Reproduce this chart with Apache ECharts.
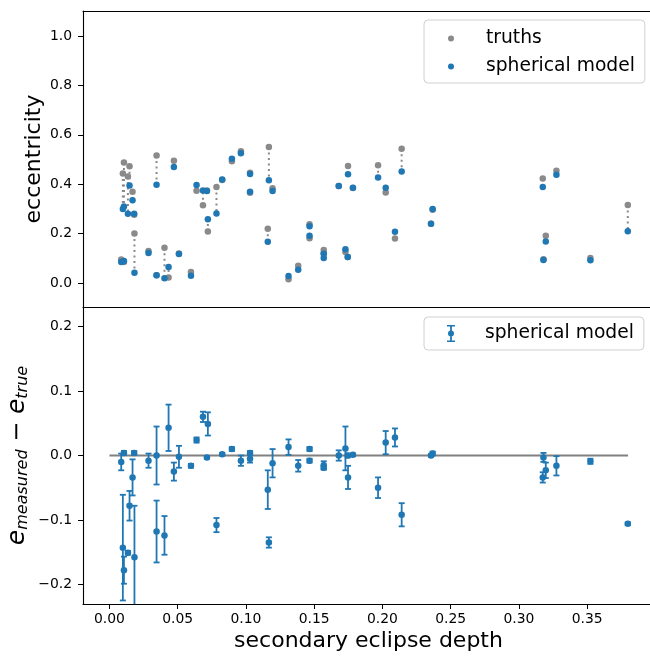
<!DOCTYPE html>
<html>
<head>
<meta charset="utf-8">
<script src="https://cdn.jsdelivr.net/npm/echarts@6/dist/echarts.min.js"></script>
<style>
html,body{margin:0;padding:0;background:#fff;overflow:hidden;}
#c{width:650px;height:657px;}
</style>
</head>
<body>
<div id="c"></div>
<script>
// ---- data ----
const depth = [0.0086,0.0098,0.0106,0.0106,0.0135,0.0147,0.0169,0.0181,0.0183,0.0286,
  0.0345,0.0345,0.0403,0.0433,0.0472,0.0509,0.0597,0.0638,0.0685,0.0714,
  0.0721,0.0784,0.0826,0.0897,0.0963,0.1030,0.1030,0.1160,0.1168,0.1195,
  0.1312,0.1383,0.1466,0.1466,0.1570,0.1570,0.1680,0.1729,0.1746,0.1748,
  0.1784,0.1968,0.2024,0.2092,0.2141,0.2356,0.2368,0.3175,0.3180,0.3197,
  0.3275,0.3524,0.3798];
const eTrue = [0.095,0.443,0.488,0.085,0.431,0.473,0.369,0.276,0.200,0.130,
  0.516,0.031,0.143,0.022,0.495,0.120,0.045,0.373,0.315,0.375,
  0.209,0.389,0.417,0.493,0.533,0.446,0.365,0.220,0.551,0.384,
  0.015,0.070,0.238,0.181,0.134,0.120,0.393,0.126,0.105,0.474,
  0.385,0.477,0.366,0.180,0.543,0.240,0.297,0.423,0.096,0.191,
  0.454,0.101,0.316];
const eModel = [0.085,0.300,0.310,0.089,0.280,0.395,0.335,0.280,0.042,0.122,
  0.398,0.031,0.019,0.065,0.470,0.118,0.029,0.397,0.375,0.372,
  0.258,0.281,0.419,0.503,0.525,0.441,0.369,0.167,0.416,0.372,
  0.028,0.054,0.230,0.191,0.119,0.101,0.393,0.137,0.105,0.440,
  0.386,0.427,0.386,0.208,0.451,0.240,0.300,0.389,0.093,0.168,
  0.438,0.092,0.210];
const eErr = [0.013,0.082,0.021,0.003,0.003,0.023,0.028,0.003,0.080,0.011,
  0.048,0.045,0.030,0.036,0.014,0.017,0.003,0.004,0.008,0.002,
  0.018,0.011,0.002,0.003,0.008,0.006,0.003,0.030,0.008,0.022,
  0.012,0.009,0.003,0.003,0.006,0.003,0.008,0.034,0.003,0.018,
  0.002,0.016,0.018,0.014,0.018,0.002,0.003,0.008,0.007,0.012,
  0.015,0.004,0.002];
const xTicks = [0.00,0.05,0.10,0.15,0.20,0.25,0.30,0.35];
const yTopTicks = [0.0,0.2,0.4,0.6,0.8,1.0];
const yBotTicks = [-0.2,-0.1,0.0,0.1,0.2];
const zeroLine = [[0.0,0.0],[0.38,0.0]];

const BLUE = '#1f77b4', GRAY = '#8a8a8a', FONT = 'DejaVu Sans';
const fmt = d => v => (v < -1e-9 ? '\u2212' : '') + Math.abs(v).toFixed(d);

const topPts = depth.map((d,i)=>[d,eTrue[i],eModel[i]]);
const truthPts = depth.map((d,i)=>[d,eTrue[i]]);
const modelPts = depth.map((d,i)=>[d,eModel[i]]);
const diffPts = depth.map((d,i)=>[d,+(eModel[i]-eTrue[i]).toFixed(4),eErr[i]]);

const chart = echarts.init(document.getElementById('c'), null, {renderer:'canvas'});
const X0 = -0.0194, X1 = 0.399;
const line = () => ({show:true, onZero:false, lineStyle:{color:'#000', width:1.1}});
const ticks = vals => ({show:true, length:5, customValues:vals, lineStyle:{color:'#000', width:1}});
const labels = (vals, d, m) => ({show:true, customValues:vals, formatter:fmt(d), fontSize:13.9,
  color:'#000', margin:m, fontFamily:FONT});
const errPath = 'path://M0,0H8V1.6H0Z M3.1,0H4.9V17H3.1Z M0,15.4H8V17H0Z M7,8.5A3,3 0 1 1 1,8.5A3,3 0 1 1 7,8.5Z';

chart.setOption({
  animation:false,
  textStyle:{fontFamily:FONT},
  grid:[
    {left:83, top:11, width:571, height:296, outerBoundsMode:'none', containLabel:false},
    {left:83, top:307, width:571, height:297, outerBoundsMode:'none', containLabel:false}
  ],
  xAxis:[
    {gridIndex:0, type:'value', min:X0, max:X1, position:'bottom', axisLine:line(),
      axisTick:{show:false}, axisLabel:{show:false}, splitLine:{show:false}},
    {gridIndex:1, type:'value', min:X0, max:X1, position:'bottom', axisLine:line(),
      axisTick:ticks(xTicks), axisLabel:labels(xTicks, 2, 8), splitLine:{show:false},
      name:'secondary eclipse depth', nameLocation:'middle', nameGap:26, nameMoveOverlap:false,
      nameTextStyle:{fontSize:22, color:'#000', fontFamily:FONT}},
    {gridIndex:0, type:'value', min:X0, max:X1, position:'top', axisLine:line(),
      axisTick:{show:false}, axisLabel:{show:false}, splitLine:{show:false}}
  ],
  yAxis:[
    {gridIndex:0, type:'value', min:-0.097, max:1.101, position:'left', axisLine:line(),
      axisTick:ticks(yTopTicks), axisLabel:labels(yTopTicks, 1, 11), splitLine:{show:false},
      name:'eccentricity', nameLocation:'middle', nameRotate:90, nameGap:38, nameMoveOverlap:false,
      nameTextStyle:{fontSize:22, color:'#000', fontFamily:FONT}},
    {gridIndex:1, type:'value', min:-0.2305, max:0.2305, position:'left', axisLine:line(),
      axisTick:ticks(yBotTicks), axisLabel:labels(yBotTicks, 1, 11), splitLine:{show:false},
      name:'{e|e}{s|measured}{m| \u2212 }{e|e}{s|true}', nameLocation:'middle', nameRotate:90,
      nameGap:52, nameMoveOverlap:false,
      nameTextStyle:{color:'#000', fontFamily:FONT, rich:{
        e:{fontSize:25, fontStyle:'italic', fontFamily:FONT, color:'#000', padding:[0,0,1,0]},
        s:{fontSize:16, fontStyle:'italic', fontFamily:FONT, color:'#000', verticalAlign:'bottom'},
        m:{fontSize:24, fontFamily:FONT, color:'#000', padding:[0,0,1,0]}
      }}}
  ],
  legend:[
    {left:424, top:20, orient:'vertical', selectedMode:false,
      data:[{name:'truths', icon:'circle'},{name:'spherical model', icon:'circle'}],
      itemWidth:6, itemHeight:6, itemGap:9, padding:[9,10,7,24],
      backgroundColor:'#fff', borderColor:'#d0d0d0', borderWidth:1, borderRadius:4,
      textStyle:{fontSize:18.7, color:'#000', fontFamily:FONT, padding:[0,0,0,27]}},
    {left:424, top:317, orient:'vertical', selectedMode:false,
      data:[{name:'spherical model', icon:errPath, itemStyle:{color:BLUE}}],
      itemWidth:8, itemHeight:17, padding:[7,10,7,23],
      backgroundColor:'#fff', borderColor:'#d0d0d0', borderWidth:1, borderRadius:4,
      textStyle:{fontSize:18.7, color:'#000', fontFamily:FONT, padding:[0,0,0,25]}}
  ],
  series:[
    {type:'custom', name:'truth-model link', xAxisIndex:0, yAxisIndex:0, clip:true, silent:true,
      data:topPts, encode:{x:0, y:[1,2]}, z:1,
      renderItem:(params, api)=>{
        const p1 = api.coord([api.value(0), api.value(1)]);
        const p2 = api.coord([api.value(0), api.value(2)]);
        return {type:'line', shape:{x1:p1[0], y1:p1[1], x2:p2[0], y2:p2[1]},
          style:{stroke:GRAY, lineWidth:2, lineDash:[2,3.5], fill:null}};
      }},
    {type:'scatter', name:'truths', xAxisIndex:0, yAxisIndex:0, data:truthPts,
      symbol:'circle', symbolSize:6.5, itemStyle:{color:GRAY, opacity:1}, z:2},
    {type:'scatter', name:'spherical model', xAxisIndex:0, yAxisIndex:0, data:modelPts,
      symbol:'circle', symbolSize:6.5, itemStyle:{color:BLUE, opacity:1}, z:3},
    {type:'line', name:'zero', xAxisIndex:1, yAxisIndex:1, data:zeroLine, symbol:'none',
      lineStyle:{color:'#808080', width:2}, silent:true, z:1},
    {type:'custom', name:'spherical model', xAxisIndex:1, yAxisIndex:1, clip:true,
      data:diffPts, encode:{x:0, y:1}, z:2, itemStyle:{color:BLUE},
      renderItem:(params, api)=>{
        const x = api.value(0), y = api.value(1), e = api.value(2);
        const t = api.coord([x, y+e]), b = api.coord([x, y-e]);
        const cw = 3, st = {stroke:BLUE, lineWidth:1.8, fill:null};
        return {type:'group', children:[
          {type:'line', shape:{x1:t[0], y1:t[1], x2:b[0], y2:b[1]}, style:st},
          {type:'line', shape:{x1:t[0]-cw, y1:t[1], x2:t[0]+cw, y2:t[1]}, style:st},
          {type:'line', shape:{x1:b[0]-cw, y1:b[1], x2:b[0]+cw, y2:b[1]}, style:st}
        ]};
      }},
    {type:'scatter', name:'spherical model', xAxisIndex:1, yAxisIndex:1, data:diffPts.map(p=>[p[0],p[1]]),
      symbol:'circle', symbolSize:6.5, itemStyle:{color:BLUE, opacity:1}, z:3}
  ]
});
</script>
</body>
</html>
